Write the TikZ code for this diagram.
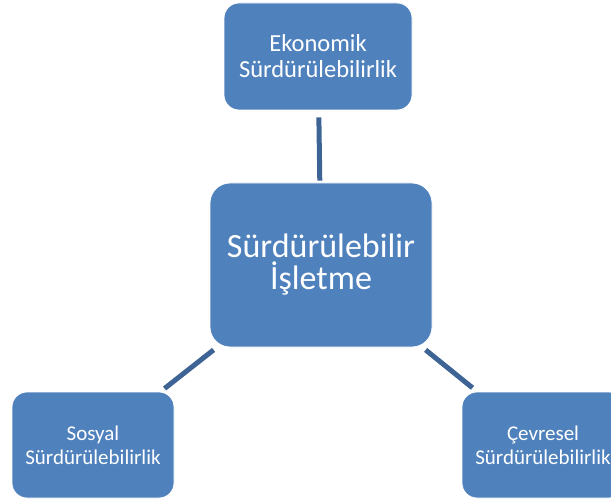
\documentclass[tikz,border=0pt]{standalone}
\usepackage{fontspec}
\setmainfont{Carlito}
\usepackage{tikz}
\definecolor{kutumavi}{HTML}{4F81BD}
\definecolor{bagmavi}{HTML}{3D6494}

\begin{document}
\begin{tikzpicture}[x=1pt,y=-1pt,
		kutu/.style={rectangle, rounded corners=15pt, fill=kutumavi, draw=white, line width=0.8pt,
			text=white, align=center, inner sep=0pt},
		bag/.style={draw=bagmavi, line width=5pt}]
		
		\useasboundingbox (0,0) rectangle (611,500);
		\clip (0,0) rectangle (611,500);
		
		%
		\node[kutu, minimum width=188pt, minimum height=107pt, font=\fontsize{24.5}{26}\selectfont] (eko) at (318,56.5) {Ekonomik\\Sürdürülebilirlik};
		\node[kutu, rounded corners=20pt, minimum width=222pt, minimum height=164pt, font=\fontsize{34}{32}\selectfont] (isl) at (321,265) {Sürdürülebilir\\İşletme};
		\node[kutu, minimum width=162pt, minimum height=106pt, font=\fontsize{21}{24}\selectfont] (sos) at (93,445) {Sosyal\\Sürdürülebilirlik};
		\node[kutu, minimum width=162pt, minimum height=106pt, font=\fontsize{21}{24}\selectfont] (cev) at (543,445) {Çevresel\\Sürdürülebilirlik};
		
		%
		\draw[bag, shorten <=7pt, shorten >=2pt] (eko) -- (isl);
		\draw[bag, shorten <=4pt, shorten >=5pt] (isl) -- (sos);
		\draw[bag, shorten <=4pt, shorten >=6pt] (isl) -- (cev);
		
	\end{tikzpicture}
\end{document}
